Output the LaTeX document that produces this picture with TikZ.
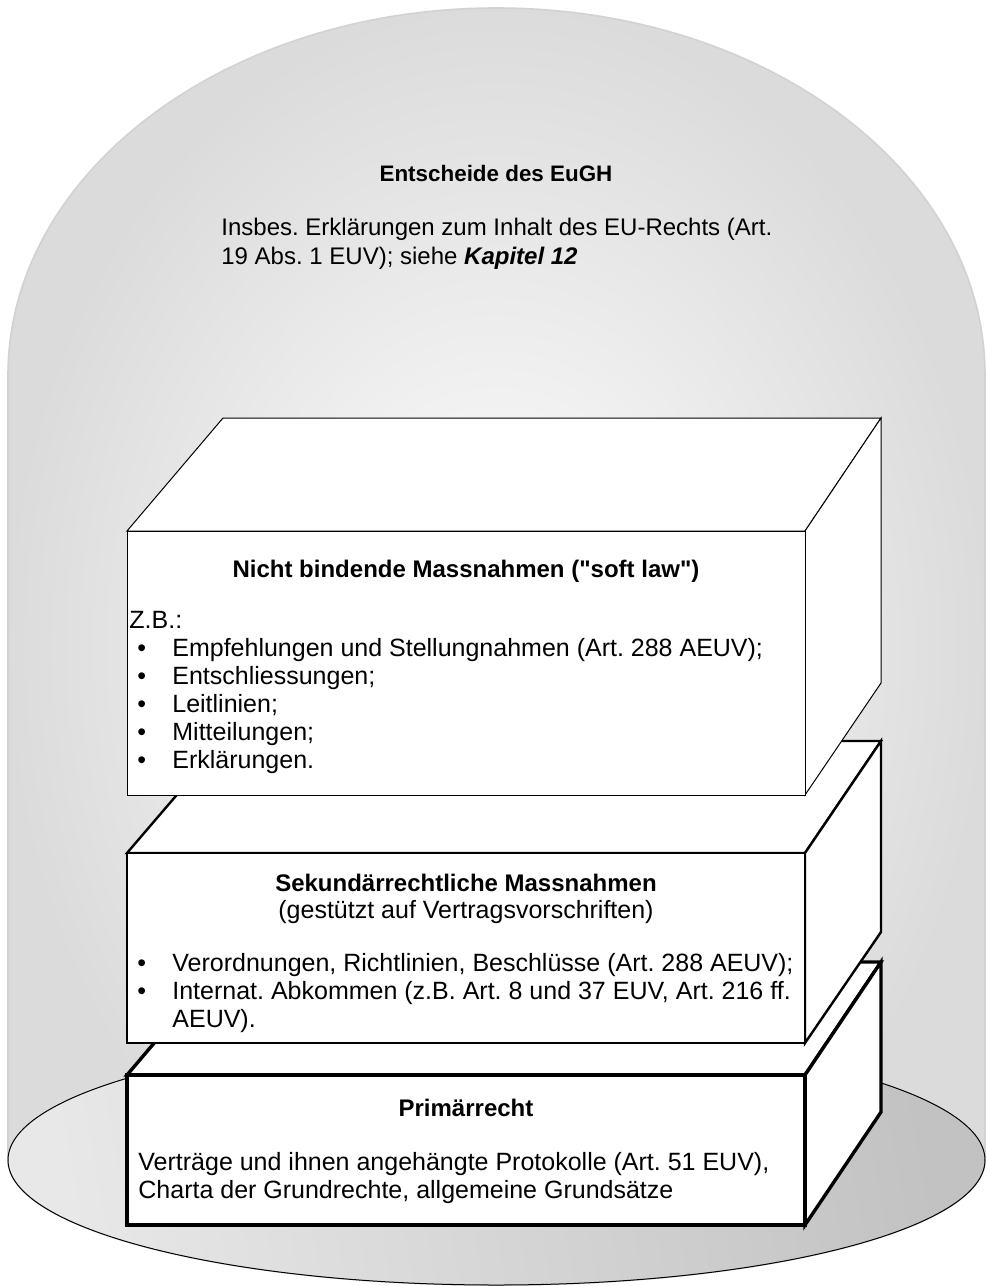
\documentclass[tikz,border=0pt]{standalone}
\usepackage{fontspec}
\setmainfont{Liberation Sans}
\usetikzlibrary{calc,positioning}
\frenchspacing
\newcommand{\blt}{\makebox[21.5pt][l]{\hspace{4pt}\textbullet}}

\begin{document}
\begin{tikzpicture}[x=0.5pt,y=-0.5pt]
		\tikzstyle{face}=[fill=white, draw=black, line join=miter]
		\tikzstyle{thin box}=[face, line width=0.5pt]
		\tikzstyle{mid box}=[face, line width=1.2pt]
		\tikzstyle{thick box}=[face, line width=1.7pt]
		\tikzstyle{body}=[font=\fontsize{12.5}{14}\selectfont, inner sep=0pt, align=left, anchor=base west]
		\tikzstyle{head}=[font=\fontsize{12}{14}\selectfont\bfseries, inner sep=0pt, anchor=base]
		\useasboundingbox (0,0) rectangle (986,1286);
		% dome and base
		\shadedraw [inner color=white, outer color=gray!28, draw=gray!35, line width=0.8pt] (8,1160) -- (8,375) arc [start angle=180, end angle=360, x radius=488.5, y radius=367] -- (985,1160) arc [start angle=0, end angle=180, x radius=488.5, y radius=125] -- cycle;
		\shadedraw [left color=gray!18, right color=gray!48, shading angle=100, draw=black, line width=0.5pt] (496.5,1160) ellipse [x radius=488.5, y radius=125];
		% Primaerrecht
		\draw [thick box] (127,1075) -- (805,1075) -- (881,962) -- (223,962) -- cycle;
		\draw [thick box] (805,1075) -- (881,962) -- (881,1112) -- (805,1225) -- cycle;
		\draw [thick box] (127,1075) rectangle (805,1225);
		% Sekundaerrecht
		\draw [mid box] (127,853) -- (805,853) -- (881,741) -- (223,741) -- cycle;
		\draw [mid box] (805,853) -- (881,741) -- (881,932) -- (805,1043) -- cycle;
		\draw [mid box] (127,853) rectangle (805,1043);
		% soft law
		\draw [thin box] (127,531) -- (805,531) -- (881,418) -- (223,418) -- cycle;
		\draw [thin box] (805,531) -- (881,418) -- (881,683) -- (805,795) -- cycle;
		\draw [thin box] (127,531) rectangle (805,795);
		% texts
		\node (eughtitle) [head, font=\fontsize{11.2}{14}\selectfont\bfseries] at (496,181) {Entscheide des EuGH};
		\node (eughtext) [body, font=\fontsize{12}{14.5}\selectfont] at (221,264) {Insbes. Erklärungen zum Inhalt des EU-Rechts (Art.\\19 Abs. 1 EUV); siehe \textbf{\textit{Kapitel 12}}};
		\node (softtitle) [head] at (466,577) {Nicht bindende Massnahmen (\textquotedbl soft law\textquotedbl)};
		\node (softlist) [body] at (129,768) {Z.B.:\\
			\blt Empfehlungen und Stellungnahmen (Art. 288 AEUV);\\
			\blt Entschliessungen;\\
			\blt Leitlinien;\\
			\blt Mitteilungen;\\
			\blt Erklärungen.};
		\node (sectitle) [head] at (466,891) {Sekundärrechtliche Massnahmen};
		\node (secsub) [body, anchor=base] at (466,918) {(gestützt auf Vertragsvorschriften)};
		\node (seclist) [body] at (129,1027) {\blt Verordnungen, Richtlinien, Beschlüsse (Art. 288 AEUV);\\
			\blt Internat. Abkommen (z.B. Art. 8 und 37 EUV, Art. 216 ff.\\
			\hspace*{21.5pt}AEUV).};
		\node (primtitle) [head] at (466,1116) {Primärrecht};
		\node (primtext) [body] at (138,1198) {Verträge und ihnen angehängte Protokolle (Art. 51 EUV),\\Charta der Grundrechte, allgemeine Grundsätze};
	\end{tikzpicture}
\end{document}
